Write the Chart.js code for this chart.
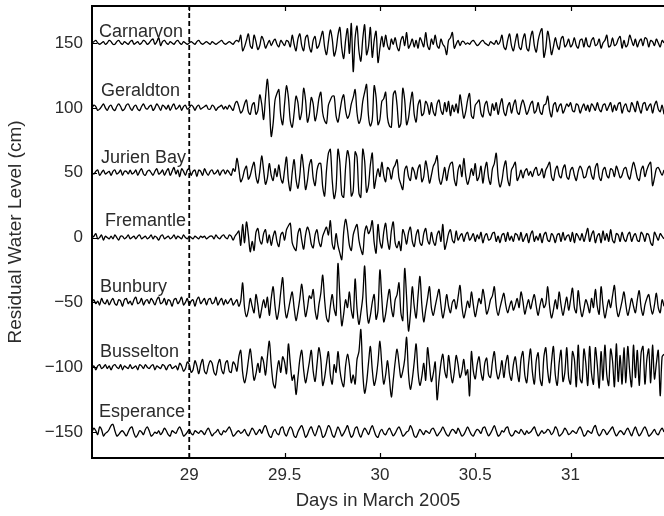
<!DOCTYPE html>
<html>
<head>
<meta charset="utf-8">
<script src="https://cdn.jsdelivr.net/npm/chart.js@4.4.1/dist/chart.umd.min.js"></script>
<style>
  html, body { margin: 0; padding: 0; background: #fff; }
  canvas { display: block; }
</style>
</head>
<body>
<canvas id="chart" width="664" height="516"></canvas>
<script>
// sampling of the residual records (days in March 2005)
const startDay = 28.49;
const stepDay = 0.01;

const stationNames = ["Carnarvon", "Geraldton", "Jurien Bay", "Fremantle", "Bunbury", "Busselton", "Esperance"];
const stationOffsets = [150, 100, 50, 0, -50, -100, -150];
const nameDays = [28.527, 28.537, 28.537, 28.558, 28.532, 28.532, 28.527];
const nameLevels = [154.4, 109.3, 57.7, 9.1, -42.1, -92.2, -138.5];

const xTicks = [29, 29.5, 30, 30.5, 31];
const yTicks = [-150, -100, -50, 0, 50, 100, 150];
const markerDay = 29;

// residual water level, cm, one value per sample
const carnarvon = [
  0, 1, 2, 0, -1, 0, 1, -1, 0, 2,
  1, -1, -1, 1, 2, 0, -1, 1, 0, -1,
  1, 2, -1, 0, 1, -1, 0, 2, 1, -1,
  0, 2, 3, -1, 1, 4, -2, 1, 2, 0,
  -1, 1, 0, -1, 1, 2, 0, -1, 1, 0,
  -1, 0, 1, 0, -1, 1, 2, 0, -1, 0,
  1, 0, -1, 1, 0, -1, 0, 1, 2, 0,
  -1, 0, 1, 0, -1, 1, 2, 1, 6, -6,
  -3, 2, 7, -2, -4, 6, 1, -5, -2, 5,
  2, -4, -1, 2, -2, 1, 3, -1, -3, 2,
  0, -2, 2, 1, -3, 6, -1, -6, 3, 7,
  -2, -6, 4, 6, -3, -7, 2, 5, -4, -2,
  4, 9, -3, -9, 1, 10, 3, -10, -5, 6,
  12, -4, -12, 2, 11, -8, 15, -22, 4, 13,
  -6, -14, 3, 14, -9, -3, 12, -11, 2, 9,
  -15, -4, 5, -3, 6, -2, -5, 3, -1, 4,
  -3, -6, 2, 5, -2, 8, -4, -1, 3, -3,
  2, -4, 4, 1, -3, 8, -2, -5, 3, -1,
  6, -2, -4, 3, -1, -3, -9, 2, 4, 8,
  -4, -1, 2, -2, 1, 1, -1, 0, -1, 1,
  2, 0, -2, -1, 1, 2, 0, -1, -2, 1,
  0, -1, 2, -1, 1, 6, -3, -5, 2, 7,
  -2, -6, 1, 7, -3, -5, 3, 7, -4, -6,
  4, 9, -2, -7, 2, 8, 11, -11, -4, 9,
  2, -9, -3, 4, -2, -5, 3, 5, -3, -1,
  3, -3, -1, 4, -2, -4, 2, 3, -3, 4,
  -2, -3, 2, 4, -2, -1, 3, -4, 0, 2,
  6, -3, -2, 4, -2, -1, 3, 5, -4, 2,
  -3, -1, 6, 2, -2, 3, -3, 1, 3, -2,
  4, 3, -3, 2, 1, -2, 3, 0, -3, 2,
  0
];

const geraldton = [
  0, 2, 1, -2, -1, 1, 3, 0, -2, 1,
  2, -1, -2, 1, 3, 1, -2, -1, 2, 3,
  0, -2, 1, 2, -1, -2, 1, 3, 0, -1,
  1, 2, -2, 0, 3, 1, -2, 2, 1, -1,
  2, -2, 1, 3, -1, 0, 2, -2, 1, 2,
  -1, 0, 2, 1, -2, 1, 2, -1, 0, 1,
  2, -1, -1, 2, 1, -2, 0, 1, 2, -1,
  1, -1, 2, 0, -2, 3, 5, 1, -4, -2,
  3, 6, -3, -5, 2, 4, -5, -2, 10, 3,
  -9, 8, 22, 3, -22, -12, 6, 11, 14, -6,
  -13, 3, 17, 8, -10, -15, -4, 9, 4, -9,
  -3, 15, 6, -11, -5, 8, 3, -10, -4, 7,
  12, -4, -10, -12, 2, 6, 9, 9, -6, -11,
  -3, 6, 10, -2, -8, -5, 3, 8, 14, -4,
  -12, -8, 5, 12, 18, -6, -14, -9, 17, 8,
  -13, -9, 5, 7, 12, -8, -14, -15, 10, 13,
  2, -15, -12, 15, 6, -13, -8, 4, 12, -5,
  -11, 2, 6, -6, -4, 5, 2, -5, 4, -3,
  -6, 3, 6, -2, -5, 4, -3, 5, -6, 2,
  -3, 3, -4, 10, 1, -8, -3, 6, 11, -6,
  -8, 2, 4, 6, -4, -7, 2, 5, -3, -6,
  3, -2, 4, -5, 2, 7, -3, -6, 1, 4,
  -4, 2, 6, -3, -5, 2, 6, 1, -5, -2,
  3, 5, -4, -2, 4, -3, -5, 2, 3, 9,
  -2, -7, 2, 4, -3, 1, 3, -4, -1, 3,
  1, 4, -2, -3, 3, 2, -4, 0, 3, -2,
  2, -3, 3, 1, -2, 4, -1, -3, 2, 3,
  -2, 1, 4, -3, 2, -2, 3, 4, -4, 1,
  3, -2, -3, 4, 1, -3, 5, 0, -4, 3,
  4, -2, 1, 3, -4, 2, 5, -1, -3, 2,
  -5
];

const jurienBay = [
  0, -1, 1, 2, -2, 0, 2, -1, 0, 1,
  -2, 1, 2, -1, 0, 2, -2, 1, 1, -1,
  2, -1, 0, 2, -2, 1, 3, -1, -2, 1,
  2, 0, -2, 1, 3, -1, 0, 2, -2, 1,
  3, -2, 1, 4, -1, 2, -3, 3, 1, -2,
  2, 3, -2, 1, 2, -3, 2, 1, -2, 3,
  0, -2, 1, 2, -1, 0, 2, -2, 1, 2,
  -1, 2, 0, -2, 3, 1, 11, 3, -7, -4,
  2, 5, -5, -2, 4, 8, -3, -8, 1, 13,
  2, -9, -4, 7, -2, -6, 3, -3, 6, -4,
  -8, 2, 12, -6, -14, 0, 10, -5, -12, -2,
  14, 3, -13, -6, 6, 10, -4, -10, 2, 7,
  7, -11, -18, 2, 15, 18, -6, -20, -12, 18,
  8, -17, -19, 4, 17, 10, -18, -14, 16, 12,
  -16, -19, 18, 9, -15, -10, 6, 15, -12, -4,
  3, -3, 8, -2, -7, 4, 2, -5, 3, 6,
  10, -4, -9, -13, 2, 5, -3, -6, 4, 1,
  -5, 3, 6, -7, -3, 9, 2, -8, -2, 5,
  8, 13, -4, -9, -3, 4, -6, 2, 7, 8,
  -5, -10, 2, 6, -3, 11, -2, -9, -4, 3,
  -2, 7, -6, -3, 5, -8, 2, 8, -4, -9,
  3, 7, 15, -3, -11, -6, 4, 9, -5, -10,
  2, 5, 8, -6, -3, 2, -4, 1, 3, -2,
  1, -3, 2, 4, -2, -1, 3, -4, 2, 5,
  8, -3, -6, 2, 5, -2, -4, 3, 6, -3,
  -5, 2, 4, -2, -6, 1, 5, 2, -4, -3,
  3, 5, -2, -5, 4, 7, -3, -6, 2, 4,
  -2, -4, 3, 2, -3, 5, 1, -4, -2, 3,
  4, -2, -5, 2, 8, 3, -4, -6, 2, 5,
  -3, 2, 6, 8, -10, -4, 3, 4, 1, -2,
  2
];

const fremantle = [
  0, 1, 3, -1, 0, 2, -2, 1, 0, -1,
  1, -1, 2, 0, -2, 1, 1, -1, 0, 2,
  -1, 0, 1, -1, 1, 2, -1, 0, 1, -1,
  0, 2, -1, 1, 0, -2, 1, 2, -1, 0,
  1, -1, 0, 2, -1, 1, 0, -1, 2, 0,
  -1, 1, 0, -1, 1, 0, -1, 1, 0, 1,
  -1, 0, 1, 1, -1, 2, 0, -1, 1, 2,
  0, -1, 2, 1, -2, 1, 3, 5, -6, 10,
  -4, 12, 2, -11, -3, -10, 4, 7, -2, -5,
  3, 6, -4, 2, -6, 1, 5, -3, -7, 2,
  4, -2, 6, 9, 11, -4, -8, -10, 3, 7,
  -2, -9, 2, 8, 4, -5, -8, 2, 6, -3,
  -7, 1, 5, 8, 2, 13, -5, -9, 3, -6,
  -12, -17, 4, 14, 6, -6, -10, 2, 7, 10,
  -2, -9, -13, 4, 9, 3, 6, 13, -4, -12,
  10, -3, -8, 4, 11, -2, -9, 5, 12, -4,
  -8, -3, -10, 6, 2, -5, 4, 8, -3, -7,
  2, 6, -4, -6, 3, 7, -2, -5, 4, -3,
  -6, 2, 5, -3, 10, -9, -4, 3, 6, -2,
  -4, 5, -2, 1, 3, -3, 2, 4, -2, 0,
  3, -3, 2, -1, 4, -4, 1, 3, -2, -1,
  3, 4, -3, 1, -4, 2, 3, -3, 4, -2,
  1, -3, 3, 2, -2, 4, -3, 0, 3, -4,
  2, 5, -3, 1, -2, 3, -4, 2, 4, -2,
  -3, 3, 1, -4, 2, 3, -3, 4, -2, 1,
  2, -3, 4, -4, 3, 1, -2, 3, -3, 2,
  7, -3, 2, 5, -4, 1, 3, -4, 5, -2,
  3, -3, 6, -2, -4, 3, 2, -3, 4, -1,
  -3, 2, 4, -3, 1, 3, -2, -3, 4, 2,
  -3, 3, 2, -4, -6, 4, 1, -2, 3, 1,
  -1
];

const bunbury = [
  0, 2, -1, 1, -2, 3, 0, -1, 2, -2,
  1, 3, -1, -2, 2, 1, -3, 2, 3, -1,
  1, -2, 2, 4, -1, 0, 3, -2, 1, 2,
  -1, 3, 1, -2, 2, 4, -1, 0, 3, -2,
  2, 1, -3, 2, 3, -1, 1, 4, -2, 0,
  3, -2, 1, 2, -3, 2, 4, -1, 1, 3,
  -2, 2, 3, -1, 0, 4, -2, 1, 3, -2,
  2, -1, 1, 3, -2, 0, 2, -3, 1, 15,
  -4, -11, -6, 3, -3, -8, 6, -2, -12, -5,
  2, -4, 4, -10, 3, 12, -3, -13, -6, 8,
  19, -2, -12, -6, 2, 8, -4, -14, -7, 3,
  14, 1, -11, -4, 5, 3, 10, -6, -13, -2,
  7, 21, 2, -12, -15, -3, 6, -5, -10, 30,
  4, -18, -9, 2, -4, 8, -6, -12, 18, -5,
  -17, -8, 4, 28, -2, -16, -10, 0, 6, -13,
  -6, 25, 3, -15, -9, 2, 10, -4, -11, 2,
  6, 15, -8, -14, 26, 4, -22, -9, 12, -3,
  -12, 5, 20, -2, -15, -6, 3, 12, -4, -10,
  -3, 4, 10, -2, -12, -5, 6, -3, -8, 0,
  2, -5, 4, 13, -3, -12, -6, 1, -4, 8,
  -2, -11, -4, 3, -1, 10, 2, -9, -5, 2,
  5, 12, -3, -10, -4, 2, 7, -2, -8, -3,
  1, -6, -2, 3, -4, 8, 1, -9, -3, 2,
  -5, 1, 6, -3, -10, -2, 3, -4, -1, 12,
  -3, -12, -6, 2, -5, 8, -2, -10, -3, 4,
  -6, 2, 11, -4, -8, 9, -3, -11, -5, 2,
  -2, -8, 3, -4, 10, -3, -9, 12, -2, -12,
  -5, 2, -4, 5, 13, -3, -11, -6, 1, 8,
  -2, -10, -4, 3, -3, -8, 2, 9, -4, -10,
  -2, 3, 6, -3, -9, -2, 7, -4, -8, 2,
  -3
];

const busselton = [
  0, 1, -2, 1, 2, -1, 0, 2, -1, 1,
  -2, 1, 2, 0, -1, 2, -2, 1, 0, -1,
  2, -1, 0, 1, -2, 2, 1, -1, 2, 0,
  -1, 1, 2, -2, 1, 0, -1, 2, 1, -2,
  1, 2, -1, 0, 1, -2, 3, 1, -3, -1,
  4, 2, -4, -2, 5, 1, -5, 2, 6, -3,
  -5, 1, 5, 3, -4, -6, 2, 6, -2, -5,
  3, 5, -3, -4, 4, 2, -3, 8, 13, -4,
  -12, -6, 5, 14, 2, -10, -5, 3, -4, 8,
  4, -6, 8, 20, 2, -12, -16, -3, 5, -4,
  8, 4, -5, 18, 3, -10, -6, -21, -8, 6,
  13, -2, -12, -5, 4, 13, -3, -11, 2, 15,
  6, -14, -8, 3, 12, -6, -13, 2, -4, 12,
  -2, -11, -15, 1, 10, 2, -12, -6, -13, 6,
  12, 29, -4, -20, -12, 3, 16, -2, -14, -8,
  4, 20, 2, -13, -6, 5, -9, -23, -10, 4,
  14, 3, -8, -3, 6, 23, -5, -17, -9, 4,
  18, -4, -14, -7, 3, -10, 15, 2, -11, -5,
  4, -25, -10, 3, 10, -3, -8, 9, -2, -12,
  -4, 9, 2, -8, -3, 6, -6, -2, -22, 12,
  -3, -9, 2, 8, -4, -10, 3, 7, -6, -8,
  4, 12, -2, -9, -4, 5, -8, 3, 9, -5,
  -10, 2, 8, -3, -11, 6, 12, -6, -12, 3,
  14, -4, -13, 5, 11, -9, -14, 8, 15, -3,
  -12, 4, 16, -6, -14, 3, 13, -11, -4, 15,
  -8, -13, 12, 6, -15, 17, -9, -12, 14, 3,
  -14, 16, -5, -13, 15, 2, -16, 12, -10, 17,
  -6, -14, 14, 5, -15, 18, -11, 9, -13, 15,
  -12, 16, -3, -15, 17, -8, 13, -14, 11, 16,
  -13, 6, 14, -12, 17, -9, 3, 13, -22, 8,
  10
];

const esperance = [
  0, 3, 1, -2, 4, 2, -3, -1, 0, 2,
  5, 6, 1, -3, -2, 0, 1, -1, -3, 0,
  3, 4, -1, -4, -2, 1, 0, -2, 2, 4,
  1, -3, -2, 0, -1, 1, -2, 0, 3, 1,
  -2, -3, 1, 0, -1, 2, 4, 1, -3, -2,
  0, 2, -1, -2, 1, 0, -1, 1, 0, -2,
  1, 3, 0, -3, -1, 0, 2, -1, -2, 1,
  0, 2, 4, 1, -3, -2, 0, 1, -1, 0,
  2, -1, -3, 0, 3, 1, -2, 0, 2, -1,
  3, 5, 1, -3, -4, 0, 2, -1, -2, 3,
  4, -1, -3, 1, 4, 2, -3, -4, 0, 3,
  5, 1, -4, -2, 2, 4, 0, -3, 1, 5,
  2, -4, -3, 1, 5, 3, -2, -4, 0, 4,
  1, -3, -1, 2, 5, 0, -4, -2, 3, 4,
  -1, -4, 0, 3, 1, -2, 2, 5, 1, -3,
  -4, 0, 2, -1, -2, 1, 3, 0, -3, -1,
  2, 4, 1, -3, -2, 0, 1, 5, 2, -3,
  -4, -1, 2, 0, -2, 1, 0, -1, 2, 3,
  0, -3, -1, 1, 4, 1, -2, -3, 0, 2,
  1, -1, 3, 0, -3, -2, 1, 4, 1, -2,
  -3, 0, 2, 1, -1, 3, 4, 0, -3, -1,
  2, 5, 1, -3, -2, 1, 0, 3, 4, -1,
  -3, -2, 1, 0, -1, 2, 0, -2, 1, -1,
  0, 2, 4, 0, -3, -1, 1, -1, 0, 2,
  1, -2, 0, 4, 2, -3, -2, 0, 3, 1,
  -2, -1, 1, 0, -1, 2, 4, 1, -3, -2,
  1, 0, -1, 3, 5, 0, -3, -1, 2, 1,
  -2, 0, 2, 4, 0, -3, -1, 1, 0, -2,
  1, 3, 0, -3, 1, 4, 0, -3, -1, 2,
  4, 1, -3, -2, 0, 2, -1, -2, 1, 3,
  0
];

const stationSeries = [carnarvon, geraldton, jurienBay, fremantle, bunbury, busselton, esperance];

const textColor = "#2b2b2b";
Chart.defaults.font.family = '"Liberation Sans", Arial, Helvetica, sans-serif';

// each record is shifted by its station offset so the traces stack
const datasets = stationSeries.map((values, k) => ({
    label: stationNames[k],
    data: values.map((v, i) => ({ x: startDay + i * stepDay, y: v + stationOffsets[k] })),
    borderColor: "#000",
    borderWidth: 1.3,
    pointRadius: 0,
    tension: 0.3,
    fill: false,
}));

// time of the earthquake
datasets.push({
    label: "marker",
    data: [{ x: markerDay, y: -170 }, { x: markerDay, y: 178.5 }],
    borderColor: "#000",
    borderWidth: 1.8,
    borderDash: [5, 3],
    pointRadius: 0,
    fill: false,
});

const framePlugin = {
    id: "frame",
    afterDraw(chart) {
        const { ctx, chartArea: a, scales } = chart;
        const x = scales.x;
        const y = scales.y;
        ctx.save();
        ctx.strokeStyle = "#000";
        ctx.lineWidth = 2;
        ctx.beginPath();
        ctx.moveTo(a.left - 1, a.top);
        ctx.lineTo(a.right, a.top);
        ctx.stroke();

        ctx.lineWidth = 1.2;
        ctx.beginPath();
        xTicks.forEach((v) => {
            const px = Math.round(x.getPixelForValue(v)) + 0.5;
            ctx.moveTo(px, a.top);
            ctx.lineTo(px, a.top + 5);
            ctx.moveTo(px, a.bottom);
            ctx.lineTo(px, a.bottom - 5);
        });
        yTicks.forEach((v) => {
            const py = Math.round(y.getPixelForValue(v)) + 0.5;
            ctx.moveTo(a.left, py);
            ctx.lineTo(a.left + 5, py);
        });
        ctx.stroke();

        ctx.fillStyle = textColor;
        ctx.font = '18px "Liberation Sans", Arial, Helvetica, sans-serif';
        ctx.textAlign = "left";
        ctx.textBaseline = "alphabetic";
        stationNames.forEach((name, k) => {
            ctx.fillText(name, x.getPixelForValue(nameDays[k]), y.getPixelForValue(nameLevels[k]));
        });
        ctx.restore();
    },
};

new Chart(document.getElementById("chart"), {
    type: "line",
    data: { datasets },
    options: {
        responsive: false,
        animation: false,
        events: [],
        layout: { padding: { top: 6, left: 0, right: 0, bottom: 0 } },
        plugins: {
            legend: { display: false },
            tooltip: { enabled: false },
        },
        scales: {
            x: {
                type: "linear",
                min: 28.49,
                max: 31.49,
                afterBuildTicks: (scale) => {
                    scale.ticks = xTicks.map((v) => ({ value: v }));
                },
                afterFit: (scale) => {
                    scale.height = 58;
                    scale.paddingLeft = 0;
                    scale.paddingRight = 0;
                },
                grid: { display: false, drawTicks: false },
                border: { display: true, color: "#000", width: 2 },
                ticks: {
                    padding: 7,
                    color: textColor,
                    font: { size: 17 },
                    maxRotation: 0,
                    callback: (v) => String(v),
                },
                title: {
                    display: true,
                    text: "Days in March 2005",
                    color: textColor,
                    font: { size: 18.5 },
                    padding: { top: 0, bottom: 4 },
                },
            },
            y: {
                type: "linear",
                min: -170,
                max: 178.5,
                afterBuildTicks: (scale) => {
                    scale.ticks = yTicks.map((v) => ({ value: v }));
                },
                afterFit: (scale) => {
                    scale.width = 92;
                    scale.paddingTop = 0;
                    scale.paddingBottom = 0;
                },
                grid: { display: false, drawTicks: false },
                border: { display: true, color: "#000", width: 2 },
                ticks: {
                    padding: 9,
                    color: textColor,
                    font: { size: 17 },
                    callback: (v) => (v < 0 ? "\u2212" + Math.abs(v) : String(v)),
                },
                title: {
                    display: true,
                    text: "Residual Water Level (cm)",
                    color: textColor,
                    font: { size: 19 },
                    padding: { top: 4, bottom: 0 },
                },
            },
        },
    },
    plugins: [framePlugin],
});
</script>
</body>
</html>
